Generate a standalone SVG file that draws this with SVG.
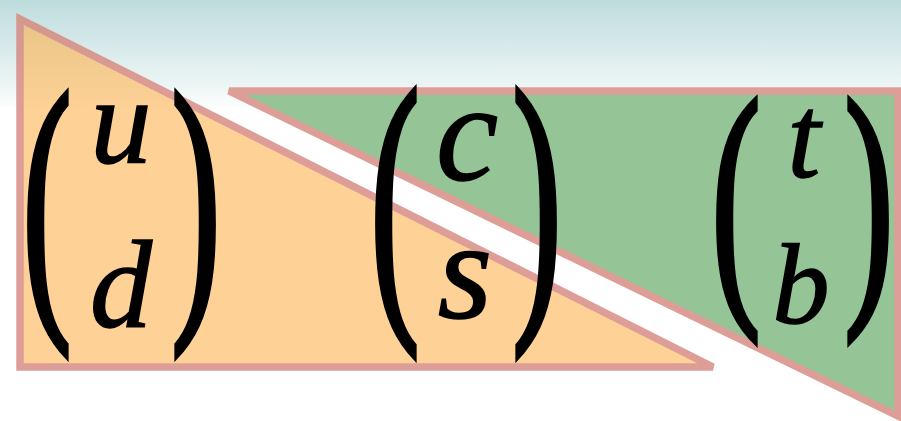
<svg xmlns="http://www.w3.org/2000/svg" width="901" height="421" viewBox="0 0 901 421">
<defs>
<linearGradient id="bg" x1="0" y1="0" x2="0" y2="110" gradientUnits="userSpaceOnUse">
<stop offset="0" stop-color="#bedcdd"/>
<stop offset="0.8" stop-color="#eef6f6"/>
<stop offset="1" stop-color="#ffffff"/>
</linearGradient>
<linearGradient id="og" x1="0" y1="15" x2="0" y2="110" gradientUnits="userSpaceOnUse">
<stop offset="0" stop-color="#e8c487"/>
<stop offset="1" stop-color="#fed196"/>
</linearGradient>
<linearGradient id="os" x1="0" y1="15" x2="0" y2="110" gradientUnits="userSpaceOnUse">
<stop offset="0" stop-color="#d3978e"/>
<stop offset="1" stop-color="#dd9e97"/>
</linearGradient>
<style>
.tri{stroke-width:7.5;stroke-linejoin:miter;stroke-miterlimit:2}
.m{font-family:"Liberation Serif","Times New Roman",serif;font-style:italic;fill:#000;stroke:#000;stroke-width:1.5;text-anchor:middle}
.p{font-family:"Liberation Serif","Times New Roman",serif;fill:#000;stroke:#000;stroke-width:3;text-anchor:middle;font-size:150px}
</style>
</defs>
<rect width="901" height="421" fill="#ffffff"/>
<rect width="901" height="110" fill="url(#bg)"/>
<g id="orange">
<polygon class="tri" points="20,19 20,367 713,367" fill="url(#og)" stroke="url(#os)"/>
</g>
<g id="green">
<polygon class="tri" points="229,91 898,91 898,416" fill="#95c596" stroke="#dd9e97"/>
</g>
<g id="ud">
<text class="p" transform="translate(47,295) scale(1,1.95)">(</text>
<text class="m" x="121" y="163" font-size="122">u</text>
<text class="m" x="121" y="327" font-size="124">d</text>
<text class="p" transform="translate(196,295) scale(1,1.95)">)</text>
</g>
<g id="cs">
<text class="p" transform="translate(395,295) scale(1,1.98)">(</text>
<text class="m" x="467" y="180" font-size="140">c</text>
<text class="m" x="465" y="318" font-size="140">s</text>
<text class="p" transform="translate(537,295) scale(1,1.98)">)</text>
</g>
<g id="tb">
<text class="p" transform="translate(736,286) scale(1,1.8)" font-size="145">(</text>
<text class="m" x="804" y="177" font-size="118">t</text>
<text class="m" x="801" y="323" font-size="114">b</text>
<text class="p" transform="translate(869,286) scale(1,1.8)" font-size="145">)</text>
</g>
</svg>
